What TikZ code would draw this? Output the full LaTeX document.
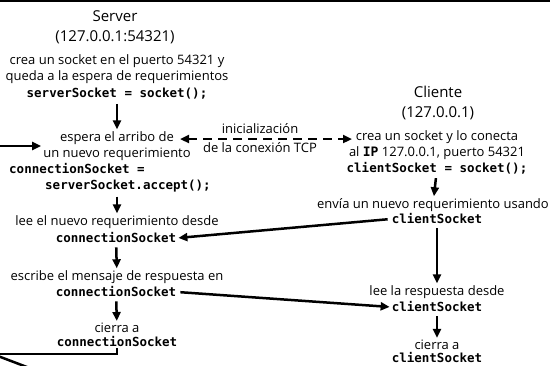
\documentclass[tikz,border=0pt]{standalone}
\usepackage{fontspec}
\setmainfont{Open Sans}
\newfontfamily\codefont{DejaVu Sans Mono}
\usetikzlibrary{arrows.meta}

\begin{document}
\begin{tikzpicture}[x=1pt,y=-1pt,
		txt/.style={font=\fontsize{13}{16}\selectfont, align=center, inner sep=1pt},
		code/.style={font=\fontsize{12.5}{16}\selectfont\codefont\bfseries, align=center, inner sep=1pt},
		host/.style={font=\fontsize{15}{20}\selectfont, align=center, inner sep=1pt},
		flow/.style={line width=2.5pt, -{Triangle[length=9pt,width=8pt]}, shorten <=3pt, shorten >=1pt},
		tcpflow/.style={line width=2.5pt, dash pattern=on 9pt off 6pt, {Triangle[length=9pt,width=8pt]}-{Triangle[length=9pt,width=8pt]}}]
			%\draw[help lines] (0,0) grid (550,365);
			\useasboundingbox (0,0) rectangle (550,365);
			\clip (0,0) rectangle (550,365);
			\draw[line width=2pt] (0,1) -- (550,1);
			
			% server side
			\node[host] (srv) at (115,27) {Server\\(127.0.0.1:54321)};
			\node[txt] (srvcrea) at (117,69) {crea un socket en el puerto 54321 y\\queda a la espera de requerimientos};
			\node[code] (srvsock) at (117,94) {serverSocket = socket();};
			\node[txt] (srvespera) at (117,146) {espera el arribo de\\un nuevo requerimiento};
			\node[code, align=left, anchor=west] (srvaccept) at (8,178) {connectionSocket =\\\hspace*{36pt}serverSocket.accept();};
			\node[txt] (srvlee) at (117,222) {lee el nuevo requerimiento desde};
			\node[code] (srvleecs) at (116,238) {connectionSocket};
			\node[txt] (srvescr) at (117,277) {escribe el mensaje de respuesta en};
			\node[code] (srvescrcs) at (116,292) {connectionSocket};
			\node[txt] (srvcierra) at (117,328) {cierra a};
			\node[code] (srvcierracs) at (117,342) {connectionSocket};
			
			% client side
			\node[host] (cli) at (438,103) {Cliente\\(127.0.0.1)};
			\node[txt] (clicrea) at (437,145) {crea un socket y lo conecta\\al {\codefont\bfseries IP} 127.0.0.1, puerto 54321};
			\node[code] (clisock) at (437,168) {clientSocket = socket();};
			\node[txt] (clienvia) at (433,205) {envía un nuevo requerimiento usando};
			\node[code] (clienviacs) at (437,219) {clientSocket};
			\node[txt] (clilee) at (437,292) {lee la respuesta desde};
			\node[code] (clileecs) at (437,307) {clientSocket};
			\node[txt] (clicierra) at (437,345) {cierra a};
			\node[code] (clicierracs) at (437,358) {clientSocket};
			
			\node[txt, font=\fontsize{13}{19}\selectfont] (tcp) at (260,138) {inicialización\\de la conexión TCP};
			\coordinate (tcpL) at (180,139);
			\coordinate (tcpR) at (352,139);
			\coordinate (loopL) at (-10,354);
			\coordinate (offL) at (-10,353);
			\coordinate (offB) at (40,372);
			
			\draw[flow] (srvsock) -- (srvespera);
			\draw[flow] (srvlee |- srvaccept.south) -- (srvlee);
			\draw[flow] (srvleecs) -- (srvescr);
			\draw[flow] (srvescrcs) -- (srvcierra);
			\draw[flow] (clisock) -- (clienvia);
			\draw[flow] (clienviacs) -- (clilee);
			\draw[flow] (clileecs) -- (clicierra);
			
			\draw[flow] (clienviacs.west) -- (srvleecs.east);
			\draw[flow] (srvescrcs.east) -- (clileecs.west);
			\draw[tcpflow] (tcpL) -- (tcpR);
			
			\draw[flow, shorten <=0pt] (srvcierracs.south) |- (loopL) |- (srvespera.west);
			\draw[line width=2.5pt] (offL) -- (offB);
\end{tikzpicture}
\end{document}
